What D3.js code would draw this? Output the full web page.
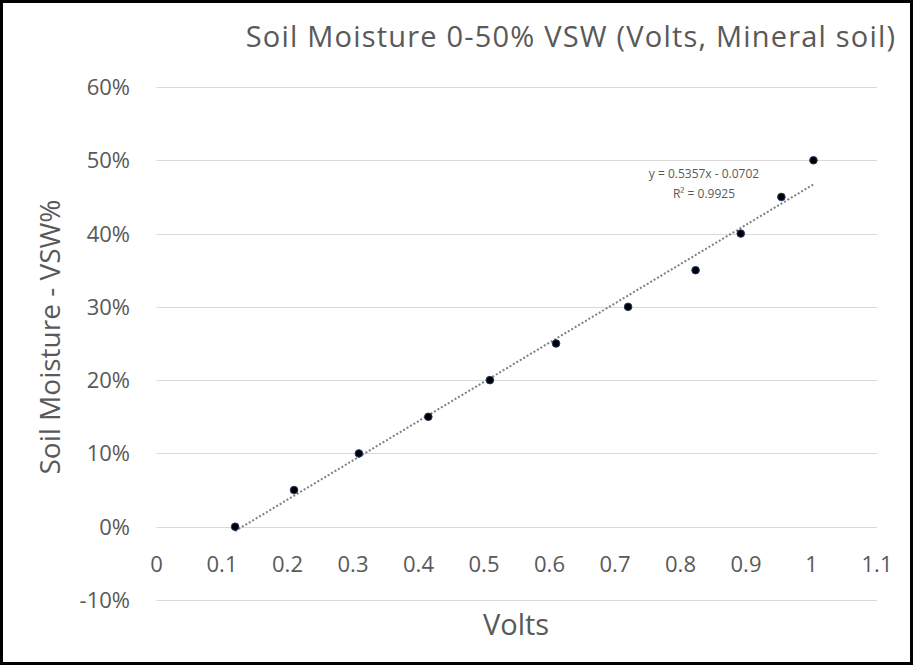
<!DOCTYPE html>
<html>
<head>
<meta charset="utf-8">
<script src="https://cdn.jsdelivr.net/npm/d3@7"></script>
<style>
  body { margin: 0; background: #fff; }
  text { font-family: "Open Sans", sans-serif; }
</style>
</head>
<body>
<div class="container"></div>
<script>
// readings: volts vs soil moisture
const volts = [0.120, 0.210, 0.309, 0.415, 0.509, 0.610, 0.720, 0.823, 0.892, 0.954, 1.003];
const moisture = [0.00, 0.05, 0.10, 0.15, 0.20, 0.25, 0.30, 0.35, 0.40, 0.45, 0.50];
const x_ticks = [0, 0.1, 0.2, 0.3, 0.4, 0.5, 0.6, 0.7, 0.8, 0.9, 1, 1.1];
const y_ticks = [-0.1, 0, 0.1, 0.2, 0.3, 0.4, 0.5, 0.6];
const trend = {slope: 0.5357, intercept: -0.0702, r2: 0.9925};

const width = 913, height = 665;
const text_color = '#595959';

let svg = d3.select(".container").append("svg")
  .attr("width", width)
  .attr("height", height);

svg.append("rect")
  .attr("x", 1.5).attr("y", 1.5)
  .attr("width", width - 3).attr("height", height - 3)
  .attr("fill", "#fff")
  .attr("stroke", "#000")
  .attr("stroke-width", 3);

const x = d3.scaleLinear().domain([0, 1.1]).range([156.5, 877]);
const y = d3.scaleLinear().domain([-0.1, 0.6]).range([600, 87]);

// horizontal gridlines
svg.append("g")
  .selectAll("line")
  .data(y_ticks)
  .enter()
  .append("line")
  .attr("x1", x(0)).attr("x2", x(1.1))
  .attr("y1", d => Math.round(y(d)) + 0.5)
  .attr("y2", d => Math.round(y(d)) + 0.5)
  .attr("stroke", "#d9d9d9")
  .attr("stroke-width", 1);

// y tick labels (excel uses a plain hyphen)
svg.append("g")
  .selectAll("text")
  .data(y_ticks)
  .enter()
  .append("text")
  .attr("x", 130)
  .attr("y", d => y(d) + 8)
  .attr("text-anchor", "end")
  .attr("fill", text_color)
  .style("font-size", "22px")
  .text(d => d3.format(".0%")(d).replace("−", "-"));

// x tick labels sit along the 0% line
svg.append("g")
  .selectAll("text")
  .data(x_ticks)
  .enter()
  .append("text")
  .attr("x", d => x(d))
  .attr("y", y(0) + 45)
  .attr("text-anchor", "middle")
  .attr("fill", text_color)
  .style("font-size", "22px")
  .text(d => String(d));

// trendline over the data range
const x_min = d3.min(volts), x_max = d3.max(volts);
svg.append("line")
  .attr("x1", x(x_min)).attr("y1", y(trend.slope * x_min + trend.intercept))
  .attr("x2", x(x_max)).attr("y2", y(trend.slope * x_max + trend.intercept))
  .attr("stroke", "#808080")
  .attr("stroke-width", 2)
  .attr("stroke-dasharray", "2,2");

// points
svg.append("g")
  .selectAll("circle")
  .data(volts)
  .enter()
  .append("circle")
  .attr("cx", d => x(d))
  .attr("cy", (d, i) => y(moisture[i]))
  .attr("r", 3.8)
  .attr("fill", "#000")
  .attr("stroke", "#1f3864")
  .attr("stroke-width", 1);

// trendline label
svg.append("text")
  .attr("x", 704).attr("y", 178)
  .attr("text-anchor", "middle")
  .attr("fill", text_color)
  .style("font-size", "12px")
  .text(`y = ${trend.slope}x - ${Math.abs(trend.intercept).toFixed(4)}`);
svg.append("text")
  .attr("x", 704).attr("y", 198)
  .attr("text-anchor", "middle")
  .attr("fill", text_color)
  .style("font-size", "12px")
  .text(`R² = ${trend.r2}`);

// title and axis titles
svg.append("text")
  .attr("x", 571).attr("y", 47)
  .attr("text-anchor", "middle")
  .attr("fill", text_color)
  .style("font-size", "29px")
  .style("letter-spacing", "1.2px")
  .text("Soil Moisture 0-50% VSW (Volts, Mineral soil)");

svg.append("text")
  .attr("transform", `translate(60, 337) rotate(-90)`)
  .attr("text-anchor", "middle")
  .attr("fill", text_color)
  .style("font-size", "28px")
  .text("Soil Moisture - VSW%");

svg.append("text")
  .attr("x", 516).attr("y", 635)
  .attr("text-anchor", "middle")
  .attr("fill", text_color)
  .style("font-size", "29px")
  .text("Volts");
</script>
</body>
</html>
